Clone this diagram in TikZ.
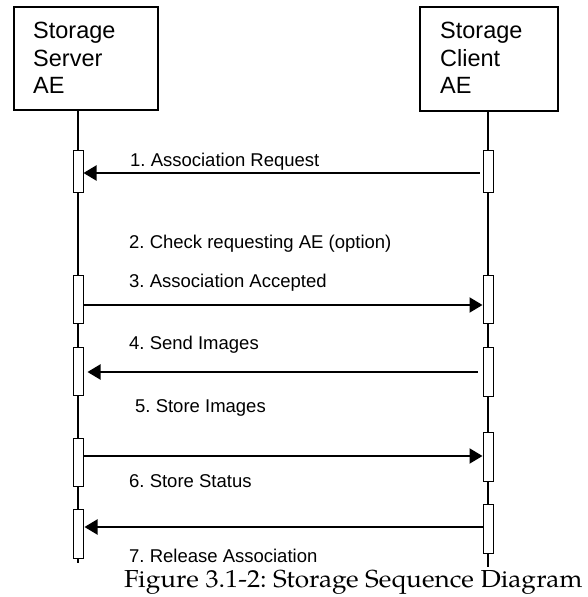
\documentclass[tikz,border=0pt]{standalone}
\usepackage{fontspec}
\setmainfont{Liberation Sans}
\newfontfamily\capfont[FakeStretch=1.065]{TeX Gyre Pagella}
\usetikzlibrary{arrows.meta}
\frenchspacing
\begin{document}
\begin{tikzpicture}[x=1pt,y=-1pt,
  hdr/.style={draw,line width=2pt,rectangle,inner sep=0,anchor=north west},
  hdrtext/.style={anchor=north west,inner sep=0,align=left,font=\fontsize{23.5}{27.5}\selectfont},
  act/.style={draw,line width=1pt,rectangle,fill=white,inner sep=0,minimum width=10pt},
  life/.style={line width=1.2pt},
  msg/.style={line width=2pt,-{Triangle[length=13pt,width=15pt]}},
  lbl/.style={anchor=base west,inner sep=0,font=\fontsize{18.5}{22}\selectfont}]
\useasboundingbox (0,0) rectangle (587,597);
% header boxes
\node[hdr,minimum width=144pt,minimum height=103pt] (srv) at (13,6) {};
\node[hdr,minimum width=138pt,minimum height=104pt] (cli) at (419,6) {};
\node[hdrtext] (srvt) at (33,22) {Storage\\Server\\AE};
\node[hdrtext] (clit) at (440,22) {Storage\\Client\\AE};
% lifelines
\coordinate (srvend) at (78,563);
\coordinate (cliend) at (488,567);
\draw[life] (srv.south -| srvend) -- (srvend);
\draw[life] (cli.south -| cliend) -- (cliend);
% activation boxes
\node[act,minimum height=42pt] (a1) at (78,171) {};
\node[act,minimum height=48pt] (a2) at (78,299) {};
\node[act,minimum height=48pt] (a3) at (78,371) {};
\node[act,minimum height=48pt] (a4) at (78,462) {};
\node[act,minimum height=49pt] (a5) at (78,533.5) {};
\node[act,minimum height=42pt] (b1) at (488,171) {};
\node[act,minimum height=48pt] (b2) at (488,299) {};
\node[act,minimum height=49pt] (b3) at (488,371.5) {};
\node[act,minimum height=49pt] (b4) at (488,456.5) {};
\node[act,minimum height=49pt] (b5) at (488,528.5) {};
% messages
\draw[msg] ([xshift=-3pt]b1.west |- 0,173) -- (a1.east |- 0,173);
\draw[msg] (a2.east |- 0,305) -- (b2.west |- 0,305);
\draw[msg] ([xshift=-5pt]b3.west |- 0,372) -- ([xshift=4pt]a3.east |- 0,372);
\draw[msg] (a4.east |- 0,456) -- (b4.west |- 0,456);
\draw[msg] (b5.west |- 0,527) -- ([xshift=1pt]a5.east |- 0,527);
% labels
\node[lbl] (l1) at (130,166) {1. Association Request};
\node[lbl] (l2) at (129,248) {2. Check requesting AE (option)};
\node[lbl] (l3) at (129,287) {3. Association Accepted};
\node[lbl] (l4) at (129,349) {4. Send Images};
\node[lbl] (l5) at (135,412) {5. Store Images};
\node[lbl] (l6) at (129,487) {6. Store Status};
\node[lbl] (l7) at (129,562) {7. Release Association};
% caption
\node[anchor=base west,inner sep=0,font=\capfont\fontsize{24.6}{28}\selectfont] (cap) at (124,587) {Figure 3.1-2: Storage Sequence Diagram};
\end{tikzpicture}
\end{document}
